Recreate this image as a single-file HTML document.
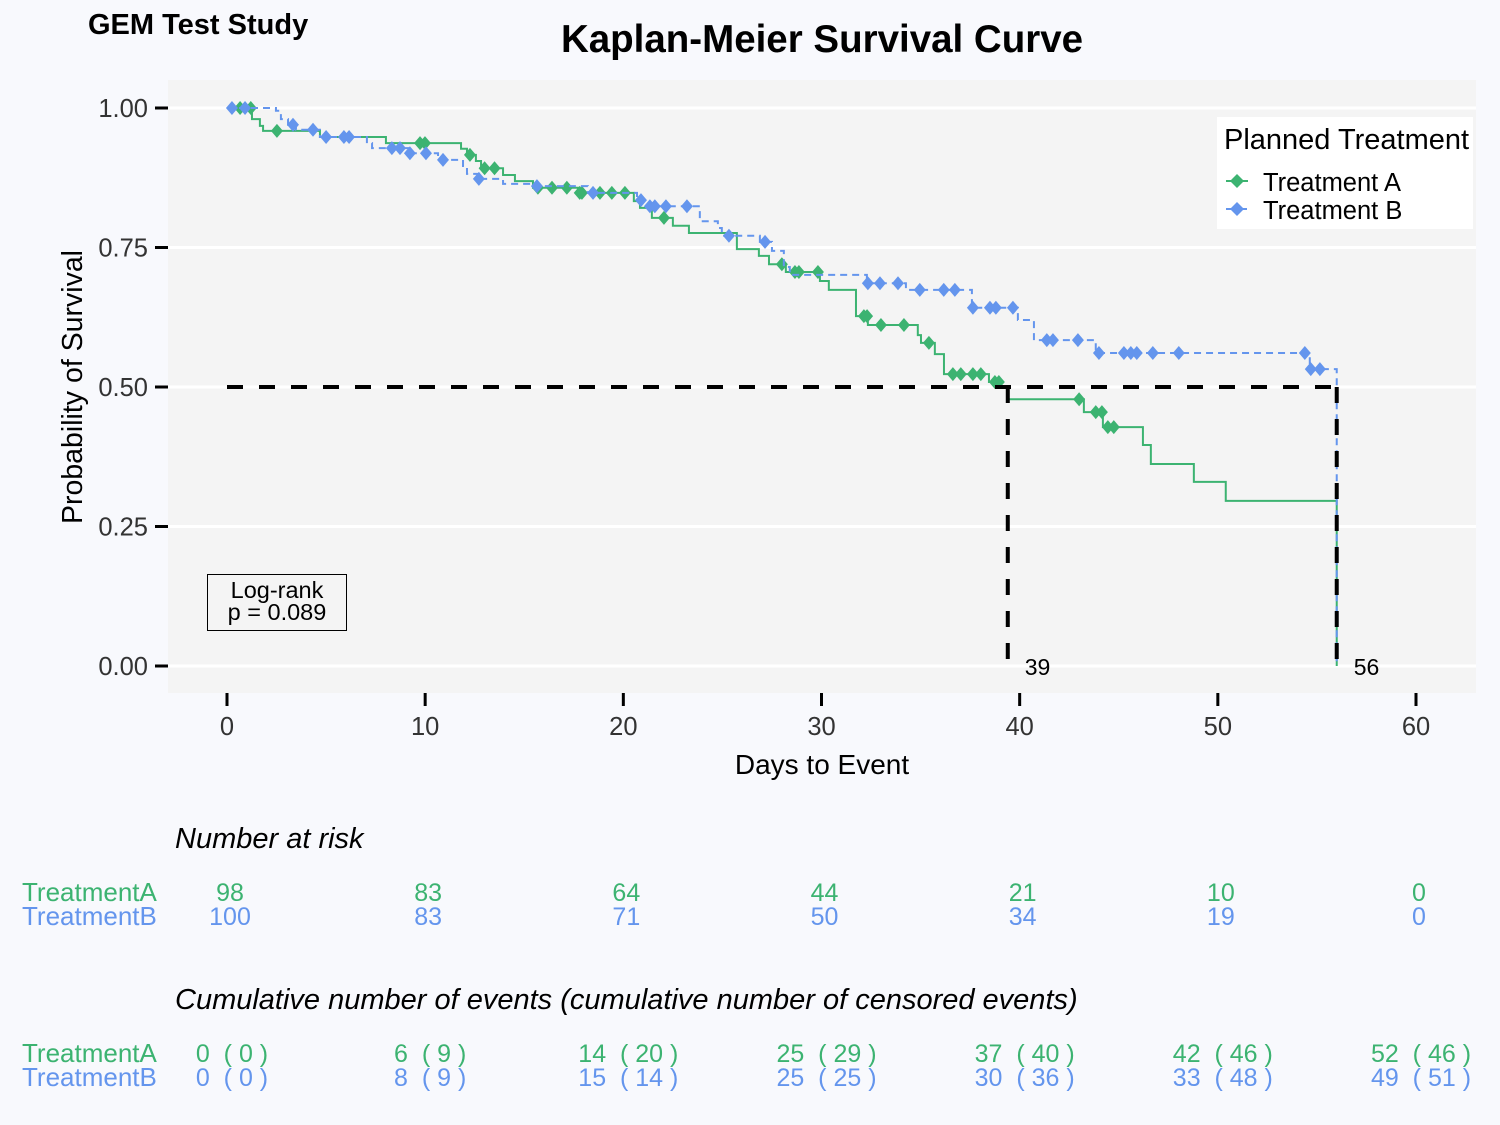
<!DOCTYPE html>
<html><head><meta charset="utf-8"><style>
body{margin:0;background:#f8f9fd;}
svg{display:block;font-family:"Liberation Sans",Arial,sans-serif;}
.pre{white-space:pre;}
</style></head><body>
<svg id="km" width="1500" height="1125" viewBox="0 0 1500 1125">
<rect width="1500" height="1125" fill="#f8f9fd"/>
<text x="88" y="34" font-size="29" font-weight="bold">GEM Test Study</text>
<text x="822" y="52" font-size="38.5" font-weight="bold" text-anchor="middle">Kaplan-Meier Survival Curve</text>
<rect x="168" y="80" width="1308" height="613" fill="#f4f4f4"/>
<g id="grid"></g>
<g id="axes"></g>
<g id="curves"></g>
<g id="median"></g>
<text x="82" y="387" font-size="28.5" text-anchor="middle" transform="rotate(-90 82 387)">Probability of Survival</text>
<text x="822" y="774" font-size="28" text-anchor="middle">Days to Event</text>
<g>
<rect x="1217" y="117" width="256" height="112" fill="#fff"/>
<text x="1224" y="149" font-size="29">Planned Treatment</text>
<g><line x1="1226" x2="1248" y1="181" y2="181" stroke="#3cb371" stroke-width="2"/><path d="M1237 174l7 7-7 7-7-7z" fill="#3cb371"/><text x="1263" y="191" font-size="25.5">Treatment A</text></g>
<g><line x1="1226" x2="1248" y1="209" y2="209" stroke="#6495ed" stroke-width="2" stroke-dasharray="5 3"/><path d="M1237 202l7 7-7 7-7-7z" fill="#6495ed"/><text x="1263" y="219" font-size="25.5">Treatment B</text></g>
</g>
<g>
<rect x="207.5" y="574.5" width="139" height="56" fill="none" stroke="#000" stroke-width="1"/>
<text x="277" y="598" font-size="23.5" text-anchor="middle">Log-rank</text>
<text x="277" y="620" font-size="23.5" text-anchor="middle">p = 0.089</text>
</g>
<text x="175" y="848" font-size="29" font-style="italic">Number at risk</text>
<text x="175" y="1009" font-size="29" font-style="italic">Cumulative number of events (cumulative number of censored events)</text>
<g id="tables"></g>
</svg>
<script>
const stepsAT=[0,1.26,1.66,1.82,4.69,8.02,11.81,12.11,12.56,12.82,13.93,14.53,15.44,17.71,20.53,20.84,21.44,22.5,23.31,25.73,26.84,27.35,28.2,29.92,30.37,31.74,32.34,34.86,35.02,35.72,36.18,38.45,39.0,39.4,43.24,44.2,46.22,46.62,48.79,50.4,56.0];
const stepsAS=[1,0.98,0.968,0.959,0.948,0.937,0.927,0.916,0.905,0.892,0.88,0.869,0.857,0.848,0.833,0.821,0.803,0.789,0.776,0.747,0.735,0.72,0.706,0.69,0.674,0.627,0.611,0.593,0.579,0.559,0.523,0.509,0.5,0.478,0.455,0.428,0.396,0.362,0.33,0.296,0];
const censorA=[0.66,1.2,2.52,9.74,9.99,12.26,13.0,13.5,15.69,16.4,17.15,17.8,17.91,18.82,19.42,20.08,22.05,28.0,28.66,28.86,29.82,32.14,32.3,33.0,34.16,35.42,36.63,37.03,37.64,38.04,38.75,38.95,43.0,43.84,44.15,44.45,44.75];
const stepsBT=[0,2.47,2.72,3.08,3.48,4.69,7.06,7.32,9.23,10.65,10.9,11.91,12.11,12.71,13.93,15.54,18.21,20.69,21.34,23.86,24.77,24.97,26.89,27.5,28.1,28.4,32.29,34.26,37.59,39.91,40.72,43.84,54.64,56.0];
const stepsBS=[1,0.995,0.98,0.97,0.961,0.948,0.937,0.928,0.919,0.914,0.907,0.896,0.882,0.873,0.864,0.86,0.848,0.835,0.824,0.797,0.785,0.771,0.76,0.744,0.715,0.701,0.686,0.674,0.642,0.62,0.584,0.561,0.532,0];
const censorB=[0.25,0.91,3.33,4.34,5.0,5.9,6.16,8.32,8.73,9.23,10.04,10.9,12.71,15.64,18.47,20.89,21.34,21.59,22.15,23.21,25.33,27.15,32.34,32.95,33.86,34.96,36.17,36.73,37.64,38.5,38.8,39.66,41.37,41.68,42.94,44.0,45.26,45.61,45.91,46.72,48.03,54.39,54.69,55.15];
const xTicks=[0,10,20,30,40,50,60];
const yTicks=[0,0.25,0.5,0.75,1];
const yTickLabels=["0.00","0.25","0.50","0.75","1.00"];
const medians=[39.4,56.0];
const medianLabels=["39","56"];
const riskA=["98","83","64","44","21","10","0"];
const riskB=["100","83","71","50","34","19","0"];
const eventsA=["0  ( 0 )","6  ( 9 )","14  ( 20 )","25  ( 29 )","37  ( 40 )","42  ( 46 )","52  ( 46 )"];
const eventsB=["0  ( 0 )","8  ( 9 )","15  ( 14 )","25  ( 25 )","30  ( 36 )","33  ( 48 )","49  ( 51 )"];

const NS="http://www.w3.org/2000/svg";
const X=t=>227+t*(1416-227)/60;
const Y=s=>666-s*(666-108);
function mk(tag,attrs,parent,txt){const e=document.createElementNS(NS,tag);for(const k in attrs)e.setAttribute(k,attrs[k]);if(txt!==undefined)e.textContent=txt;parent.appendChild(e);return e;}
const grid=document.getElementById('grid'),axes=document.getElementById('axes'),curves=document.getElementById('curves'),med=document.getElementById('median'),tables=document.getElementById('tables');
yTicks.forEach((v,i)=>{
  const g=mk('line',{x1:168,x2:1476,y1:Y(v),y2:Y(v),stroke:'#fff','stroke-width':3},grid);
  
  
  const tk=mk('line',{x1:155,x2:168,y1:Y(v),y2:Y(v),stroke:'#000','stroke-width':3},axes);
  
  
  const tl=mk('text',{x:148,y:Y(v)+9,'font-size':25.5,'text-anchor':'end',fill:'#333'},axes,yTickLabels[i]);
  
  
});
xTicks.forEach(v=>{
  const tk=mk('line',{x1:X(v),x2:X(v),y1:693,y2:706,stroke:'#000','stroke-width':3},axes);
  
  
  const tl=mk('text',{x:X(v),y:735,'font-size':25.5,'text-anchor':'middle',fill:'#333'},axes,String(v));
  
  
});
function survAt(T,S,t){let s=S[0];for(let i=0;i<T.length;i++){if(T[i]<=t)s=S[i];}return s;}
function drawCurve(T,S,C,color,dash,name){
  let d='M'+X(T[0])+' '+Y(S[0]);
  for(let i=1;i<T.length;i++){d+=' H'+X(T[i])+' V'+Y(S[i]);}
  const p=mk('path',{d:d,fill:'none',stroke:color,'stroke-width':2,'stroke-dasharray':dash},curves);
  
  
  C.forEach(t=>{
    const cx=X(t),cy=Y(survAt(T,S,t));
    const m=mk('path',{d:`M${cx} ${cy-7}l6 7-6 7-6-7z`,fill:color},curves);
    
    
  });
}
drawCurve(stepsAT,stepsAS,censorA,'#3cb371','none','treatment-a');
drawCurve(stepsBT,stepsBS,censorB,'#6495ed','7 5','treatment-b');
const hl=mk('line',{x1:X(0),x2:X(medians[1]),y1:Y(0.5),y2:Y(0.5),stroke:'#000','stroke-width':4,'stroke-dasharray':'16 16'},med);


medians.forEach((m,i)=>{
  const vl=mk('line',{x1:X(m),x2:X(m),y1:Y(0.5),y2:Y(0),stroke:'#000','stroke-width':4,'stroke-dasharray':'16 16'},med);
  
  
  const lb=mk('text',{x:X(m)+17,y:Y(0)+9,'font-size':23},med,medianLabels[i]);
  
  
});
function row(vals,y,color,label,name,off){
  const l=mk('text',{x:22,y:y,'font-size':26,fill:color},tables,label);
  
  
  vals.forEach((v,i)=>{
    const t=mk('text',{x:X(xTicks[i])+off,y:y,'font-size':25,fill:color,'text-anchor':'middle','class':'pre'},tables,v);
    
    
  });
}
row(riskA,901,'#3cb371','TreatmentA','risk-a',3);
row(riskB,925,'#6495ed','TreatmentB','risk-b',3);
row(eventsA,1062,'#3cb371','TreatmentA','events-a',5);
row(eventsB,1086,'#6495ed','TreatmentB','events-b',5);
</script>
</body></html>
